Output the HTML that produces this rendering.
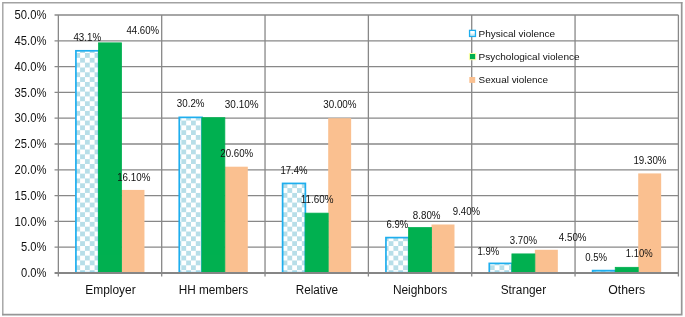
<!DOCTYPE html>
<html><head><meta charset="utf-8"><title>Chart</title>
<style>
html,body{margin:0;padding:0;background:#fff;}
body{width:685px;height:317px;overflow:hidden;font-family:"Liberation Sans",sans-serif;}
svg{display:block;opacity:0.999;will-change:transform;}
text{font-family:"Liberation Sans",sans-serif;fill:#111;}
</style></head><body>
<svg width="685" height="317" viewBox="0 0 685 317">
<defs>
<pattern id="chk" width="9.64" height="9.65" patternUnits="userSpaceOnUse" patternTransform="translate(3.0 4.75)">
<rect width="9.64" height="9.65" fill="#ffffff"/>
<rect x="4.82" y="0" width="4.82" height="4.825" fill="#b7dee8"/>
<rect x="0" y="4.825" width="4.82" height="4.825" fill="#b7dee8"/>
</pattern>
</defs>
<rect width="685" height="317" fill="#fff"/>

<path d="M2.8 315.3V2.7H682.4" fill="none" stroke="#a2a2a2" stroke-width="1.4"/><path d="M2.1 314.6H681.7V2.0" fill="none" stroke="#969696" stroke-width="1.7"/>
<g stroke="#888888" stroke-width="1.3" fill="none"><line x1="54.55" y1="15.00" x2="678.40" y2="15.00"/><line x1="54.55" y1="40.80" x2="678.40" y2="40.80"/><line x1="54.55" y1="66.60" x2="678.40" y2="66.60"/><line x1="54.55" y1="92.40" x2="678.40" y2="92.40"/><line x1="54.55" y1="118.20" x2="678.40" y2="118.20"/><line x1="54.55" y1="144.00" x2="678.40" y2="144.00"/><line x1="54.55" y1="169.80" x2="678.40" y2="169.80"/><line x1="54.55" y1="195.60" x2="678.40" y2="195.60"/><line x1="54.55" y1="221.40" x2="678.40" y2="221.40"/><line x1="54.55" y1="247.20" x2="678.40" y2="247.20"/><line x1="161.69" y1="15.00" x2="161.69" y2="276.40"/><line x1="265.03" y1="15.00" x2="265.03" y2="276.40"/><line x1="368.38" y1="15.00" x2="368.38" y2="276.40"/><line x1="471.72" y1="15.00" x2="471.72" y2="276.40"/><line x1="575.06" y1="15.00" x2="575.06" y2="276.40"/><line x1="678.40" y1="15.00" x2="678.40" y2="276.40"/><line x1="58.35" y1="15.00" x2="58.35" y2="276.40"/></g>
<rect x="75.92" y="50.80" width="22.76" height="221.90" fill="url(#chk)" stroke="#1eaeee" stroke-width="1.7"/>
<rect x="121.50" y="189.92" width="22.96" height="83.08" fill="#fac090"/>
<rect x="98.54" y="42.86" width="22.96" height="230.14" fill="#00b050" stroke="#00b050" stroke-width="0.8"/>
<rect x="179.27" y="117.37" width="22.76" height="155.33" fill="url(#chk)" stroke="#1eaeee" stroke-width="1.7"/>
<rect x="224.84" y="166.70" width="22.96" height="106.30" fill="#fac090"/>
<rect x="201.88" y="117.68" width="22.96" height="155.32" fill="#00b050" stroke="#00b050" stroke-width="0.8"/>
<rect x="282.61" y="183.42" width="22.76" height="89.28" fill="url(#chk)" stroke="#1eaeee" stroke-width="1.7"/>
<rect x="328.19" y="118.20" width="22.96" height="154.80" fill="#fac090"/>
<rect x="305.22" y="213.14" width="22.96" height="59.86" fill="#00b050" stroke="#00b050" stroke-width="0.8"/>
<rect x="385.95" y="237.60" width="22.76" height="35.10" fill="url(#chk)" stroke="#1eaeee" stroke-width="1.7"/>
<rect x="431.53" y="224.50" width="22.96" height="48.50" fill="#fac090"/>
<rect x="408.56" y="227.59" width="22.96" height="45.41" fill="#00b050" stroke="#00b050" stroke-width="0.8"/>
<rect x="489.29" y="263.40" width="22.76" height="9.30" fill="url(#chk)" stroke="#1eaeee" stroke-width="1.7"/>
<rect x="534.87" y="249.78" width="22.96" height="23.22" fill="#fac090"/>
<rect x="511.91" y="253.91" width="22.96" height="19.09" fill="#00b050" stroke="#00b050" stroke-width="0.8"/>
<rect x="592.63" y="270.62" width="22.76" height="2.08" fill="url(#chk)" stroke="#1eaeee" stroke-width="1.7"/>
<rect x="638.21" y="173.41" width="22.96" height="99.59" fill="#fac090"/>
<rect x="615.25" y="267.32" width="22.96" height="5.68" fill="#00b050" stroke="#00b050" stroke-width="0.8"/>
<line x1="54.55" y1="273.00" x2="679.00" y2="273.00" stroke="#868686" stroke-width="1.9"/>
<text x="14.55" y="19.15" font-size="12.1" textLength="31.9" lengthAdjust="spacingAndGlyphs">50.0%</text>
<text x="14.55" y="44.95" font-size="12.1" textLength="31.9" lengthAdjust="spacingAndGlyphs">45.0%</text>
<text x="14.55" y="70.75" font-size="12.1" textLength="31.9" lengthAdjust="spacingAndGlyphs">40.0%</text>
<text x="14.55" y="96.55" font-size="12.1" textLength="31.9" lengthAdjust="spacingAndGlyphs">35.0%</text>
<text x="14.55" y="122.35" font-size="12.1" textLength="31.9" lengthAdjust="spacingAndGlyphs">30.0%</text>
<text x="14.55" y="148.15" font-size="12.1" textLength="31.9" lengthAdjust="spacingAndGlyphs">25.0%</text>
<text x="14.55" y="173.95" font-size="12.1" textLength="31.9" lengthAdjust="spacingAndGlyphs">20.0%</text>
<text x="14.55" y="199.75" font-size="12.1" textLength="31.9" lengthAdjust="spacingAndGlyphs">15.0%</text>
<text x="14.55" y="225.55" font-size="12.1" textLength="31.9" lengthAdjust="spacingAndGlyphs">10.0%</text>
<text x="20.95" y="251.35" font-size="12.1" textLength="25.5" lengthAdjust="spacingAndGlyphs">5.0%</text>
<text x="20.95" y="277.15" font-size="12.1" textLength="25.5" lengthAdjust="spacingAndGlyphs">0.0%</text>
<text x="85.30" y="293.7" font-size="12" textLength="50.40" lengthAdjust="spacingAndGlyphs">Employer</text>
<text x="178.70" y="293.7" font-size="12" textLength="69.40" lengthAdjust="spacingAndGlyphs">HH members</text>
<text x="295.70" y="293.7" font-size="12" textLength="42.40" lengthAdjust="spacingAndGlyphs">Relative</text>
<text x="392.90" y="293.7" font-size="12" textLength="54.20" lengthAdjust="spacingAndGlyphs">Neighbors</text>
<text x="500.70" y="293.7" font-size="12" textLength="45.40" lengthAdjust="spacingAndGlyphs">Stranger</text>
<text x="608.30" y="293.7" font-size="12" textLength="36.80" lengthAdjust="spacingAndGlyphs">Others</text>
<text x="73.45" y="40.60" font-size="10.1" textLength="27.70" lengthAdjust="spacingAndGlyphs">43.1%</text>
<text x="126.45" y="34.00" font-size="10.1" textLength="32.70" lengthAdjust="spacingAndGlyphs">44.60%</text>
<text x="117.15" y="180.60" font-size="10.1" textLength="33.20" lengthAdjust="spacingAndGlyphs">16.10%</text>
<text x="176.85" y="107.40" font-size="10.1" textLength="27.70" lengthAdjust="spacingAndGlyphs">30.2%</text>
<text x="224.85" y="108.20" font-size="10.1" textLength="33.70" lengthAdjust="spacingAndGlyphs">30.10%</text>
<text x="220.25" y="157.20" font-size="10.1" textLength="32.90" lengthAdjust="spacingAndGlyphs">20.60%</text>
<text x="280.45" y="173.60" font-size="10.1" textLength="27.10" lengthAdjust="spacingAndGlyphs">17.4%</text>
<text x="300.85" y="203.40" font-size="10.1" textLength="32.70" lengthAdjust="spacingAndGlyphs">11.60%</text>
<text x="323.25" y="108.40" font-size="10.1" textLength="33.30" lengthAdjust="spacingAndGlyphs">30.00%</text>
<text x="386.45" y="227.60" font-size="10.1" textLength="21.70" lengthAdjust="spacingAndGlyphs">6.9%</text>
<text x="412.85" y="219.20" font-size="10.1" textLength="27.70" lengthAdjust="spacingAndGlyphs">8.80%</text>
<text x="452.85" y="215.00" font-size="10.1" textLength="27.30" lengthAdjust="spacingAndGlyphs">9.40%</text>
<text x="477.45" y="254.60" font-size="10.1" textLength="21.70" lengthAdjust="spacingAndGlyphs">1.9%</text>
<text x="509.85" y="244.20" font-size="10.1" textLength="27.30" lengthAdjust="spacingAndGlyphs">3.70%</text>
<text x="558.85" y="241.20" font-size="10.1" textLength="27.70" lengthAdjust="spacingAndGlyphs">4.50%</text>
<text x="585.25" y="261.00" font-size="10.1" textLength="21.90" lengthAdjust="spacingAndGlyphs">0.5%</text>
<text x="625.85" y="257.40" font-size="10.1" textLength="26.90" lengthAdjust="spacingAndGlyphs">1.10%</text>
<text x="633.45" y="163.60" font-size="10.1" textLength="33.10" lengthAdjust="spacingAndGlyphs">19.30%</text>
<rect x="469.55" y="30.35" width="5.9" height="6.1" fill="#fff"/><rect x="469.55" y="33.6" width="5.9" height="2.8" fill="#d3ebf2"/><rect x="469.55" y="30.35" width="5.9" height="6.1" fill="none" stroke="#1eaeee" stroke-width="1.3"/>
<rect x="469.4" y="53.5" width="6.3" height="6.2" fill="#00b050" stroke="#ffffa8" stroke-width="1"/>
<rect x="469.3" y="77.0" width="5.9" height="5.9" fill="#fac090"/>
<text x="478.5" y="36.6" font-size="9.8" textLength="76.6" lengthAdjust="spacingAndGlyphs">Physical violence</text>
<text x="478.5" y="60.0" font-size="9.8" textLength="101.1" lengthAdjust="spacingAndGlyphs">Psychological violence</text>
<text x="478.5" y="83.3" font-size="9.8" textLength="69.6" lengthAdjust="spacingAndGlyphs">Sexual violence</text>
</svg></body></html>
